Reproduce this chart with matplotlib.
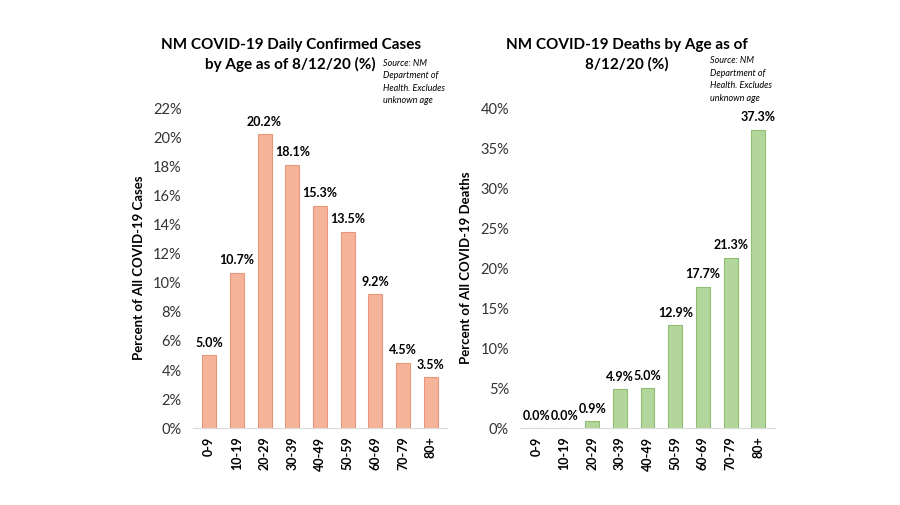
import matplotlib.pyplot as plt
from matplotlib.ticker import FuncFormatter

ages = ["0-9", "10-19", "20-29", "30-39", "40-49", "50-59", "60-69", "70-79", "80+"]
cases = [5.0, 10.7, 20.2, 18.1, 15.3, 13.5, 9.2, 4.5, 3.5]
deaths = [0.0, 0.0, 0.9, 4.9, 5.0, 12.9, 17.7, 21.3, 37.3]

plt.rcParams['font.family'] = ['Lato', 'DejaVu Sans']

fig = plt.figure(figsize=(9, 5.05), dpi=100)
ax1 = fig.add_axes([0.214, 0.152, 0.283, 0.634])
ax2 = fig.add_axes([0.578, 0.152, 0.283, 0.634])


def style(ax, ymax, step):
    ax.set_ylim(0, ymax)
    ax.set_yticks(range(0, ymax + 1, step))
    ax.yaxis.set_major_formatter(FuncFormatter(lambda v, p: f"{v:.0f}%"))
    ax.set_xlim(-0.6, len(ages) - 0.4)
    for s in ["top", "right", "left"]:
        ax.spines[s].set_visible(False)
    ax.spines["bottom"].set_color("#d9d9d9")
    ax.tick_params(axis="y", length=0, labelsize=10.5, colors="#333333", pad=8)
    ax.tick_params(axis="x", length=0, labelsize=9, rotation=90, pad=6)
    for lab in ax.get_xticklabels():
        lab.set_fontweight("bold")


bars = ax1.bar(ages, cases, width=0.5, color="#F5B49A", edgecolor="#E8967A", linewidth=0.8)
for b, v in zip(bars, cases):
    ax1.text(b.get_x() + b.get_width() / 2, v + 0.45, f"{v:.1f}%", ha="center",
             va="bottom", fontsize=9, fontweight="bold")
style(ax1, 22, 2)
ax1.set_ylabel("Percent of All COVID-19 Cases", fontsize=9.5, fontweight="bold", labelpad=6)

bars = ax2.bar(ages, deaths, width=0.5, color="#B3D69C", edgecolor="#8FBF72", linewidth=0.8)
for b, v in zip(bars, deaths):
    ax2.text(b.get_x() + b.get_width() / 2, v + 0.8, f"{v:.1f}%", ha="center",
             va="bottom", fontsize=9, fontweight="bold")
style(ax2, 40, 5)
ax2.set_ylabel("Percent of All COVID-19 Deaths", fontsize=9.5, fontweight="bold", labelpad=6)

# titles, one text per line
tkw = dict(ha="center", va="center", fontsize=11, fontweight="bold")
fig.text(0.323, 0.911, "NM COVID-19 Daily Confirmed Cases", **tkw)
fig.text(0.323, 0.872, "by Age as of 8/12/20 (%)", **tkw)
fig.text(0.697, 0.911, "NM COVID-19 Deaths by Age as of", **tkw)
fig.text(0.697, 0.872, "8/12/20 (%)", **tkw)

note = "Source: NM\nDepartment of\nHealth. Excludes\nunknown age"
fig.text(0.426, 0.884, note, ha="left", va="top", fontsize=6.5, style="italic", linespacing=1.5)
fig.text(0.789, 0.889, note, ha="left", va="top", fontsize=6.5, style="italic", linespacing=1.5)

fig.savefig("out.png", dpi=100, facecolor="white")
